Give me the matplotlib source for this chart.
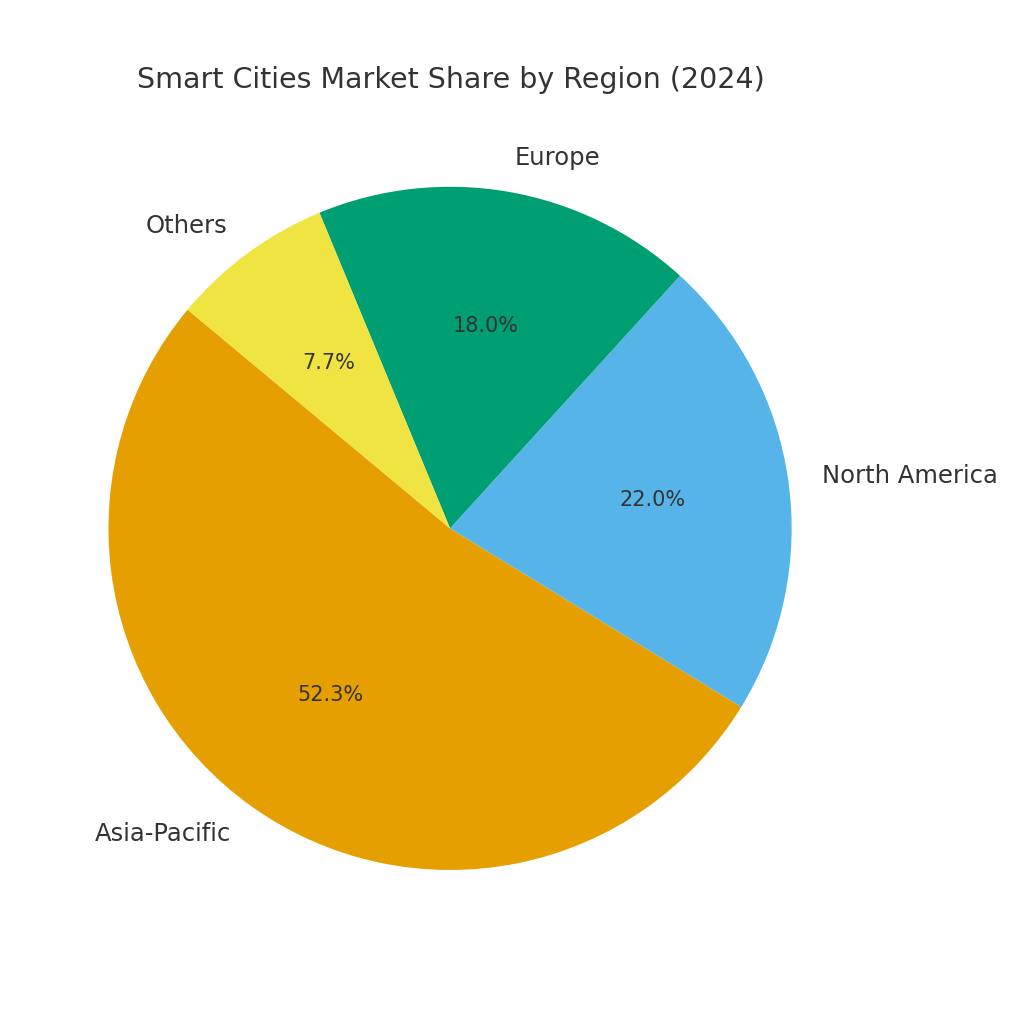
import matplotlib.pyplot as plt

regions = ["Asia-Pacific", "North America", "Europe", "Others"]
shares = [52.3, 22.0, 18.0, 7.7]
colors = ["#E69F00", "#56B4E9", "#009E73", "#F0E442"]

fig = plt.figure(figsize=(10.24, 10.24), dpi=100)
ax = fig.add_axes([0.0225, 0.067, 0.834, 0.834])
wedges, texts, autotexts = ax.pie(shares, labels=regions, colors=colors,
                                  autopct="%1.1f%%", startangle=140.2,
                                  textprops={"color": "#333333", "fontsize": 17.5})
for t in autotexts:
    t.set_fontsize(15)
ax.set_aspect("equal")
fig.text(0.44, 0.922, "Smart Cities Market Share by Region (2024)",
         ha="center", va="center", fontsize=20.5, color="#333333")
fig.savefig("out.png", dpi=100)
